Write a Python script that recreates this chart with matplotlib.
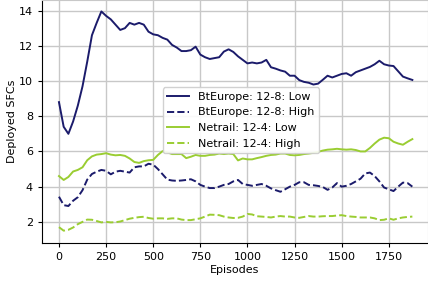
import matplotlib
matplotlib.use("Agg")
import matplotlib.pyplot as plt
import numpy as np

episodes = list(range(0, 1876, 25))

bteurope_low = [8.8, 7.4, 7.0, 7.7, 8.6, 9.7, 11.1, 12.6, 13.3, 13.95,
                13.7, 13.5, 13.2, 12.9, 13.0, 13.3, 13.2, 13.3, 13.2, 12.8,
                12.65, 12.6, 12.45, 12.35, 12.05, 11.9, 11.7, 11.7, 11.75, 11.95,
                11.5, 11.35, 11.25, 11.3, 11.35, 11.67, 11.8, 11.65, 11.4, 11.2,
                11.0, 11.05, 11.0, 11.05, 11.2, 10.78, 10.7, 10.6, 10.53, 10.3,
                10.3, 10.05, 9.95, 9.9, 9.8, 9.85, 10.07, 10.3, 10.2, 10.3,
                10.4, 10.44, 10.3, 10.5, 10.6, 10.7, 10.8, 10.95, 11.15, 10.95,
                10.88, 10.85, 10.55, 10.25, 10.15, 10.06]

bteurope_high = [3.43, 2.95, 2.9, 3.2, 3.4, 3.8, 4.4, 4.72, 4.85, 4.95,
                 4.9, 4.7, 4.85, 4.9, 4.85, 4.8, 5.1, 5.15, 5.15, 5.3,
                 5.25, 5.0, 4.7, 4.4, 4.35, 4.33, 4.35, 4.38, 4.42, 4.3,
                 4.1, 4.0, 3.92, 3.92, 4.0, 4.1, 4.15, 4.3, 4.38, 4.15,
                 4.1, 4.05, 4.1, 4.15, 4.05, 3.9, 3.8, 3.71, 3.85, 4.0,
                 4.1, 4.25, 4.25, 4.1, 4.08, 4.04, 3.98, 3.82, 3.95, 4.2,
                 4.0, 4.05, 4.15, 4.3, 4.45, 4.75, 4.8, 4.6, 4.3, 3.95,
                 3.85, 3.75, 4.0, 4.23, 4.2, 4.0]

netrail_low = [4.6, 4.38, 4.55, 4.86, 4.95, 5.1, 5.5, 5.72, 5.82, 5.85,
               5.9, 5.82, 5.78, 5.8, 5.75, 5.6, 5.4, 5.35, 5.45, 5.5,
               5.52, 5.8, 6.02, 5.95, 5.85, 5.85, 5.85, 5.62, 5.7, 5.8,
               5.75, 5.75, 5.8, 5.82, 5.88, 5.85, 5.88, 5.85, 5.49, 5.6,
               5.55, 5.55, 5.62, 5.68, 5.75, 5.8, 5.82, 5.88, 5.88, 5.8,
               5.78, 5.8, 5.85, 5.88, 5.92, 5.98, 6.05, 6.1, 6.12, 6.15,
               6.12, 6.1, 6.12, 6.08, 6.0, 6.0, 6.2, 6.45, 6.67, 6.78,
               6.75, 6.55, 6.45, 6.38, 6.55, 6.7]

netrail_high = [1.7, 1.5, 1.55, 1.68, 1.87, 2.0, 2.13, 2.12, 2.05, 1.97,
                2.0, 1.97, 1.98, 2.02, 2.1, 2.18, 2.23, 2.27, 2.29, 2.22,
                2.18, 2.2, 2.2, 2.17, 2.2, 2.2, 2.13, 2.1, 2.1, 2.15,
                2.2, 2.3, 2.41, 2.4, 2.38, 2.3, 2.25, 2.22, 2.23, 2.3,
                2.45, 2.42, 2.32, 2.3, 2.28, 2.25, 2.3, 2.33, 2.3, 2.3,
                2.25, 2.23, 2.28, 2.33, 2.3, 2.3, 2.32, 2.33, 2.33, 2.36,
                2.38, 2.33, 2.3, 2.28, 2.25, 2.25, 2.25, 2.2, 2.1, 2.12,
                2.2, 2.12, 2.2, 2.25, 2.28, 2.3]

labels = ["BtEurope: 12-8: Low", "BtEurope: 12-8: High",
          "Netrail: 12-4: Low", "Netrail: 12-4: High"]
xticks = [0, 250, 500, 750, 1000, 1250, 1500, 1750]
yticks = [2, 4, 6, 8, 10, 12, 14]

navy = "#1b1b6b"
green = "#9acd32"

plt.rcParams["font.family"] = ["DejaVu Sans"]
fig = plt.figure(figsize=(4.28, 2.83), dpi=100)
ax = fig.add_axes([42 / 428, 40 / 283, 1 - 42 / 428, 243 / 283])

ax.plot(episodes, bteurope_low, color=navy, lw=1.4, ls="-", label=labels[0])
ax.plot(episodes, bteurope_high, color=navy, lw=1.4, ls="--", label=labels[1])
ax.plot(episodes, netrail_low, color=green, lw=1.4, ls="-", label=labels[2])
ax.plot(episodes, netrail_high, color=green, lw=1.4, ls="--", label=labels[3])

ax.set_xlim(-90, 1958)
ax.set_ylim(0.8, 14.6)
ax.set_xticks(xticks)
ax.set_yticks(yticks)
ax.tick_params(labelsize=8, length=3)
ax.grid(True, color="#c8c8c8", lw=1)
ax.set_axisbelow(True)
ax.set_xlabel("Episodes", fontsize=8, labelpad=2)
ax.set_ylabel("Deployed SFCs", fontsize=8, labelpad=1)
for s in ["top", "right"]:
    ax.spines[s].set_color("#c8c8c8")

ax.legend(loc="upper left", bbox_to_anchor=(0.313, 0.64), borderaxespad=0,
          fontsize=8, framealpha=0.9, handlelength=2.0)

fig.savefig("out.png", dpi=100)
